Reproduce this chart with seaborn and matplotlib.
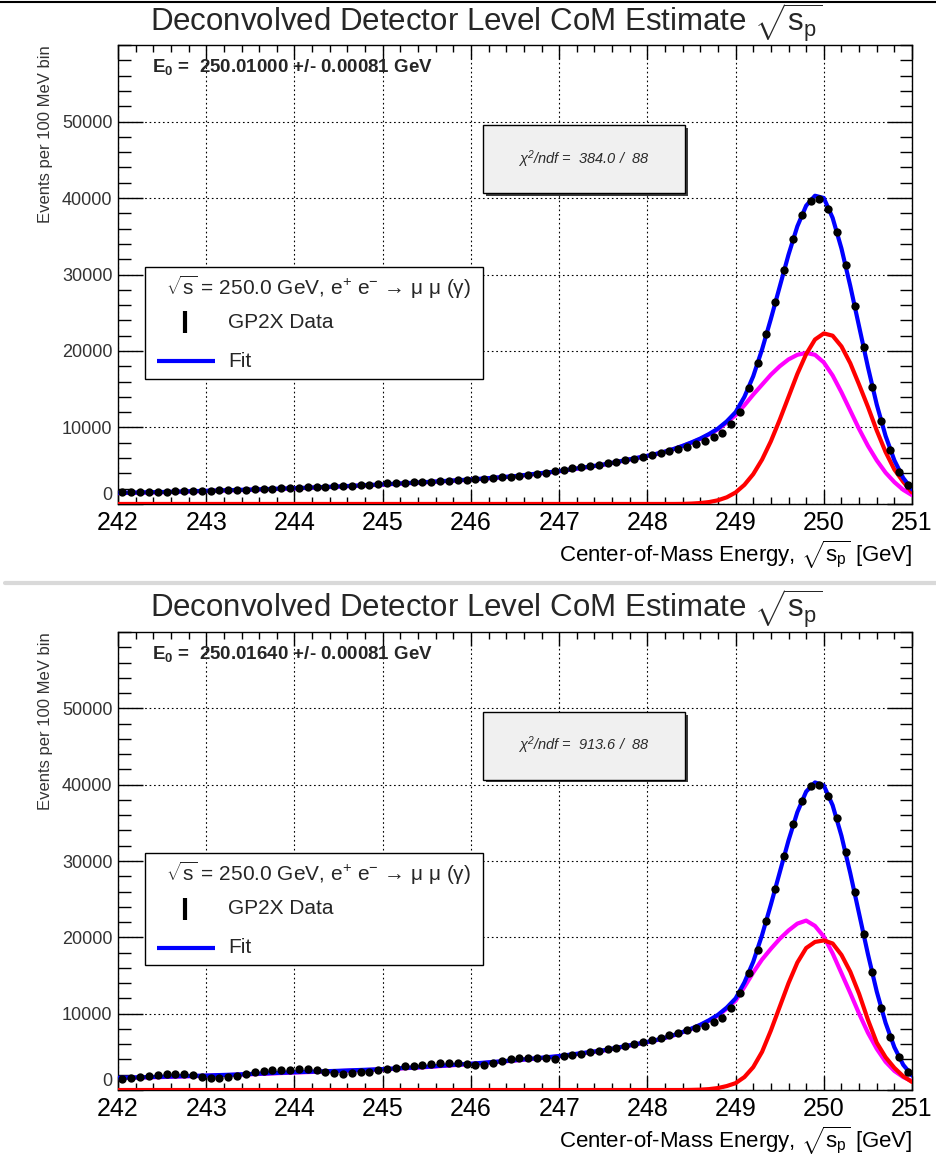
import numpy as np
import pandas as pd
import matplotlib
matplotlib.use('Agg')
import matplotlib.pyplot as plt
import seaborn as sns
from matplotlib.patches import Rectangle
from matplotlib.lines import Line2D
from matplotlib.ticker import MultipleLocator, FixedLocator

# bin centres (100 MeV bins) and the x grid the fit curves are read on
bin_centers = np.round(np.arange(242.05, 251.0, 0.1), 2)
curve_x = np.round(np.r_[np.arange(242.0, 248.01, 0.5), np.arange(248.1, 251.01, 0.1)], 2)

# ---- top panel ----
data_top = [
    1500, 1520, 1540, 1560, 1590, 1610, 1640, 1670, 1700, 1730,
    1760, 1790, 1820, 1850, 1880, 1910, 1950, 1990, 2030, 2070,
    2130, 2170, 2210, 2250, 2300, 2350, 2400, 2460, 2520, 2590,
    2680, 2730, 2780, 2830, 2880, 2930, 2990, 3050, 3110, 3170,
    3230, 3300, 3380, 3460, 3550, 3650, 3770, 3900, 4050, 4250,
    4500, 4650, 4800, 4960, 5130, 5310, 5500, 5700, 5920, 6150,
    6400, 6650, 6920, 7200, 7500, 7850, 8250, 8700, 9300, 10400,
    12000, 15200, 18400, 22200, 26400, 30600, 34600, 37800, 39600, 39900,
    38500, 35500, 31200, 25900, 20500, 15300, 10800, 7000, 4200, 2500]
blue_top = [1450, 1560, 1720, 1880, 2060, 2290, 2560, 2870, 3200, 3640, 4300, 5150, 6300,
            6550, 6850, 7200, 7600, 8050, 8550, 9150, 9850, 10800, 12000,
            14000, 16700, 20200, 24200, 28400, 32600, 36300, 39000, 40300, 40000,
            37400, 33400, 28500, 23200, 17900, 13000, 8900, 5700, 3400, 1900]
magenta_top = [1420, 1530, 1690, 1850, 2030, 2260, 2530, 2840, 3170, 3610, 4270, 5120, 6270,
               6520, 6820, 7170, 7570, 8010, 8500, 9080, 9750, 10650, 11600,
               12900, 14300, 15600, 16900, 18000, 18900, 19500, 19750, 19500, 18500,
               16800, 14600, 12200, 9800, 7600, 5700, 4100, 2850, 1850, 1150]
red_top = [0, 0, 0, 0, 0, 0, 0, 0, 0, 0, 0, 0, 0,
           0, 0, 0, 10, 50, 120, 250, 480, 870, 1500,
           2500, 3900, 5800, 8200, 11000, 14000, 17000, 19600, 21500, 22300,
           22000, 20600, 18400, 15600, 12700, 9600, 6800, 4500, 2900, 1500]

# ---- bottom panel ----
data_bot = [
    1450, 1580, 1760, 1850, 2030, 2120, 2120, 2120, 1950, 1770,
    1590, 1590, 1680, 1900, 2120, 2350, 2430, 2570, 2650, 2650,
    2700, 2740, 2650, 2390, 2210, 2120, 2170, 2350, 2390, 2570,
    2740, 2920, 3100, 3190, 3270, 3450, 3540, 3540, 3580, 3450,
    3270, 3270, 3540, 3800, 4000, 4150, 4250, 4250, 4150, 4100,
    4400, 4550, 4750, 4950, 5150, 5350, 5550, 5800, 6050, 6300,
    6550, 6850, 7150, 7450, 7800, 8100, 8450, 8900, 9500, 10800,
    12700, 15300, 18400, 22200, 26300, 30600, 34800, 37800, 39800, 39900,
    38500, 35600, 31200, 26000, 20500, 15400, 10800, 7000, 4300, 2400]
blue_bot = [1600, 1740, 1900, 2100, 2330, 2520, 2740, 3050, 3450, 3900, 4450, 5200, 6300,
            6550, 6850, 7200, 7600, 8050, 8550, 9150, 9850, 10800, 12000,
            14100, 16800, 20300, 24300, 28500, 32700, 36400, 39100, 40300, 39900,
            37300, 33300, 28400, 23100, 17800, 12900, 8800, 5600, 3300, 1900]
magenta_bot = [1560, 1700, 1860, 2060, 2290, 2480, 2700, 3010, 3410, 3860, 4410, 5160, 6270,
               6520, 6820, 7170, 7570, 8010, 8500, 9080, 9750, 10650, 11700,
               13500, 15400, 17100, 18500, 19800, 20900, 21800, 22200, 21500, 20100,
               17900, 15300, 12700, 10000, 7500, 5400, 3700, 2500, 1700, 1150]
red_bot = [0, 0, 0, 0, 0, 0, 0, 0, 0, 0, 0, 0, 0,
           0, 0, 0, 0, 20, 50, 120, 260, 520, 900,
           1700, 3000, 5000, 7800, 10900, 14000, 16700, 18600, 19400, 19600,
           19200, 17700, 15500, 12600, 9200, 6200, 4300, 2900, 1800, 1050]

e0_labels = ['E$_{0}$ =  250.01000 +/- 0.00081 GeV', 'E$_{0}$ =  250.01640 +/- 0.00081 GeV']
chi2_labels = ['χ$^{2}$/ndf =  384.0 /  88', 'χ$^{2}$/ndf =  913.6 /  88']
xtick_vals = list(range(242, 252))
ytick_vals = [0, 10000, 20000, 30000, 40000, 50000]

sns.set_theme(style='ticks', rc={'axes.facecolor': 'white', 'figure.facecolor': 'white'})
plt.rcParams['font.family'] = ['Liberation Sans', 'DejaVu Sans']
plt.rcParams['mathtext.fontset'] = 'custom'
plt.rcParams['mathtext.rm'] = 'Liberation Sans'
plt.rcParams['mathtext.it'] = 'Liberation Sans:italic'
plt.rcParams['mathtext.bf'] = 'Liberation Sans:bold'
plt.rcParams['mathtext.default'] = 'regular'

fig = plt.figure(figsize=(9.36, 11.58), dpi=100)
ax_top = fig.add_axes([0.1261, 0.5648, 0.8483, 0.3963])
ax_bot = fig.add_axes([0.1261, 0.0587, 0.8483, 0.3955])


def draw_panel(ax, data, blue, magenta, red, e0, chi2):
    df_data = pd.DataFrame({'E': bin_centers, 'N': data})
    df_fit = pd.DataFrame({'E': curve_x, 'blue': blue, 'magenta': magenta, 'red': red})

    sns.lineplot(data=df_fit, x='E', y='magenta', color='#ff00ff', lw=3, estimator=None, ax=ax, zorder=3)
    sns.lineplot(data=df_fit, x='E', y='red', color='#ff0000', lw=3, estimator=None, ax=ax, zorder=4)
    sns.lineplot(data=df_fit, x='E', y='blue', color='#0000ff', lw=3, estimator=None, ax=ax, zorder=5)
    sns.scatterplot(data=df_data, x='E', y='N', color='black', s=36, linewidth=0, ax=ax, zorder=6)

    ax.set_xlim(242, 251)
    ax.set_ylim(0, 60000)
    ax.set_xlabel('')
    ax.set_ylabel('')
    ax.xaxis.set_major_locator(FixedLocator(xtick_vals))
    ax.xaxis.set_minor_locator(MultipleLocator(0.2))
    ax.yaxis.set_major_locator(FixedLocator(ytick_vals))
    ax.yaxis.set_minor_locator(MultipleLocator(2000))
    ax.set_xticklabels([str(v) for v in xtick_vals])
    ylabels = ax.set_yticklabels([str(v) for v in ytick_vals])
    ylabels[0].set_verticalalignment('bottom')  # keep "0" clear of the "242" label

    ax.tick_params(which='both', direction='in', top=True, right=True, color='black', width=1)
    ax.tick_params(axis='x', which='major', length=10, labelsize=18, pad=5, labelcolor='black')
    ax.tick_params(axis='x', which='minor', length=5)
    ax.tick_params(axis='y', which='major', length=18, labelsize=13, pad=4, labelcolor='#333333')
    ax.tick_params(axis='y', which='minor', length=9)
    for sp in ax.spines.values():
        sp.set_color('black')
        sp.set_linewidth(1)

    ax.grid(True, which='major', color='black', linestyle=(0, (1.5, 2.5)), lw=0.8)
    ax.set_axisbelow(True)

    ax.text(1.0, -0.126, r'Center-of-Mass Energy, $\sqrt{s_{p}}$ [GeV]', transform=ax.transAxes,
            ha='right', va='baseline', fontsize=16, color='black')
    ax.text(-0.0919, 1.0, 'Events per 100 MeV bin', transform=ax.transAxes, rotation=90,
            ha='center', va='top', fontsize=12, color='#333333')

    ax.text(0.043, 0.952, e0, transform=ax.transAxes, ha='left', va='center',
            fontsize=13.5, fontweight='bold', zorder=11)

    # chi2 box with shadow
    ax.add_patch(Rectangle((0.464, 0.6715), 0.254, 0.148, transform=ax.transAxes,
                           fc='#3c3c3c', ec='none', zorder=9))
    ax.add_patch(Rectangle((0.46, 0.678), 0.254, 0.148, transform=ax.transAxes,
                           fc='#f0f0f0', ec='black', lw=1, zorder=10))
    ax.text(0.587, 0.752, chi2, transform=ax.transAxes, ha='center', va='center',
            fontsize=10.5, style='italic', color='#2b2b2b', zorder=11)

    # legend box
    ax.add_patch(Rectangle((0.034, 0.272), 0.426, 0.245, transform=ax.transAxes,
                           fc='white', ec='black', lw=1, zorder=10))
    ax.text(0.253, 0.472, r'$\sqrt{s}$ = 250.0 GeV, e$^{+}$ e$^{-}$ → μ μ (γ)',
            transform=ax.transAxes, ha='center', va='center', fontsize=15, zorder=11)
    ax.plot([0.0845, 0.0845], [0.372, 0.42], transform=ax.transAxes, color='black', lw=3,
            solid_capstyle='butt', zorder=11, clip_on=False)
    ax.text(0.1385, 0.396, 'GP2X Data', transform=ax.transAxes, ha='left', va='center',
            fontsize=15, zorder=11)
    ax.plot([0.049, 0.122], [0.311, 0.311], transform=ax.transAxes, color='#0000ff', lw=3,
            solid_capstyle='butt', zorder=11, clip_on=False)
    ax.text(0.1385, 0.311, 'Fit', transform=ax.transAxes, ha='left', va='center',
            fontsize=15, zorder=11)


draw_panel(ax_top, data_top, blue_top, magenta_top, red_top, e0_labels[0], chi2_labels[0])
draw_panel(ax_bot, data_bot, blue_bot, magenta_bot, red_bot, e0_labels[1], chi2_labels[1])

title = r'Deconvolved Detector Level CoM Estimate $\sqrt{s_{p}}$'
fig.text(0.52, 0.9725, title, ha='center', va='baseline', fontsize=22.5)
fig.text(0.52, 0.4665, title, ha='center', va='baseline', fontsize=22.5)

fig.add_artist(Line2D([0.005, 1.0], [0.4965, 0.4965], transform=fig.transFigure, color='#d9d9d9', lw=3))
fig.add_artist(Line2D([0.0, 1.0], [0.9985, 0.9985], transform=fig.transFigure, color='black', lw=1.5))

fig.savefig('out.png', dpi=100)
